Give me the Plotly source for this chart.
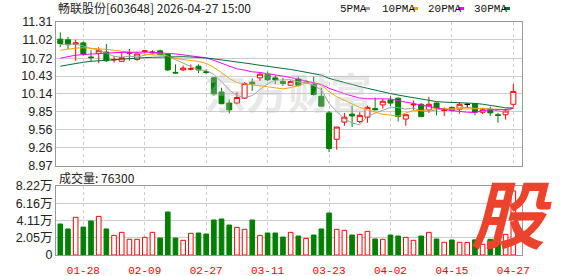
import plotly.graph_objects as go

# ---------------- data ----------------
dates = ["01-23", "01-26", "01-27", "01-28", "01-29", "01-30", "02-02", "02-03", "02-04", "02-05",
         "02-06", "02-09", "02-10", "02-11", "02-12", "02-13", "02-24", "02-25", "02-26", "02-27",
         "03-02", "03-03", "03-04", "03-05", "03-06", "03-09", "03-10", "03-11", "03-12", "03-13",
         "03-16", "03-17", "03-18", "03-19", "03-20", "03-23", "03-24", "03-25", "03-26", "03-27",
         "03-30", "03-31", "04-01", "04-02", "04-03", "04-07", "04-08", "04-09", "04-10", "04-13",
         "04-14", "04-15", "04-16", "04-17", "04-20", "04-21", "04-22", "04-23", "04-24", "04-27"]

opens = [11.03, 11.02, 10.95, 10.97, 10.74, 10.80, 10.82, 10.69, 10.67, 10.80,
         10.70, 10.83, 10.81, 10.84, 10.78, 10.49, 10.53, 10.54, 10.59, 10.50,
         10.40, 10.17, 9.99, 9.99, 10.07, 10.33, 10.40, 10.46, 10.40, 10.34,
         10.28, 10.38, 10.32, 10.30, 10.10, 9.83, 9.40, 9.68, 9.81, 9.69,
         9.76, 9.90, 9.96, 10.04, 10.07, 9.73, 9.96, 9.97, 9.88, 9.99,
         9.87, 9.92, 9.89, 9.97, 9.98, 9.84, 9.89, 9.80, 9.80, 9.97]
highs = [11.14, 11.07, 11.02, 10.99, 10.85, 10.90, 10.95, 10.76, 10.83, 10.87,
         10.82, 10.85, 10.85, 10.86, 10.79, 10.62, 10.60, 10.62, 10.62, 10.54,
         10.41, 10.24, 10.05, 10.17, 10.33, 10.39, 10.48, 10.50, 10.44, 10.40,
         10.36, 10.42, 10.36, 10.42, 10.24, 9.86, 9.60, 9.83, 9.95, 9.84,
         9.95, 10.08, 10.05, 10.10, 10.08, 9.80, 10.03, 9.99, 10.09, 10.00,
         9.92, 9.93, 10.00, 9.97, 9.99, 9.90, 9.93, 9.83, 9.90, 10.30]
lows = [10.90, 10.87, 10.68, 10.76, 10.67, 10.64, 10.66, 10.65, 10.66, 10.68,
        10.68, 10.81, 10.78, 10.77, 10.51, 10.47, 10.51, 10.52, 10.48, 10.46,
        10.11, 9.97, 9.82, 9.97, 10.06, 10.19, 10.35, 10.35, 10.30, 10.27,
        10.27, 10.26, 10.31, 10.11, 9.93, 9.19, 9.23, 9.62, 9.60, 9.66,
        9.67, 9.87, 9.90, 9.94, 9.69, 9.62, 9.88, 9.76, 9.83, 9.79,
        9.78, 9.85, 9.82, 9.91, 9.79, 9.81, 9.78, 9.67, 9.72, 9.93]
closes = [10.96, 10.94, 10.97, 10.79, 10.73, 10.85, 10.68, 10.70, 10.73, 10.81,
          10.79, 10.84, 10.82, 10.78, 10.53, 10.48, 10.56, 10.55, 10.53, 10.49,
          10.14, 9.98, 9.88, 10.08, 10.31, 10.30, 10.46, 10.37, 10.37, 10.31,
          10.34, 10.28, 10.33, 10.13, 9.94, 9.25, 9.60, 9.76, 9.78, 9.79,
          9.92, 9.88, 10.02, 9.99, 9.77, 9.80, 9.97, 9.77, 9.97, 9.91,
          9.88, 9.87, 9.97, 9.97, 9.84, 9.88, 9.83, 9.79, 9.86, 10.18]
volumes = [36900, 31000, 44900, 33300, 40500, 46000, 31000, 23400, 27000, 18700,
           18700, 21000, 27000, 20200, 51200, 20200, 17500, 25800, 26200, 25000,
           41700, 42900, 35700, 32900, 30600, 41700, 23400, 26200, 26200, 21400,
           27000, 22600, 19800, 23800, 31000, 50000, 30600, 29400, 23800, 24600,
           28200, 19100, 18700, 23800, 22600, 21000, 17500, 22600, 27000, 19100,
           15100, 17900, 15100, 15000, 18000, 12700, 18700, 14000, 24600, 76300]

ma5 = [10.94, 10.95, 10.95, 10.92, 10.878, 10.856, 10.804, 10.75, 10.738, 10.754,
       10.742, 10.772, 10.796, 10.806, 10.75, 10.688, 10.634, 10.58, 10.53, 10.522,
       10.454, 10.338, 10.204, 10.114, 10.078, 10.112, 10.208, 10.306, 10.364, 10.364,
       10.37, 10.334, 10.326, 10.278, 10.204, 9.986, 9.85, 9.736, 9.666, 9.636,
       9.77, 9.826, 9.878, 9.92, 9.916, 9.892, 9.91, 9.86, 9.856, 9.884,
       9.90, 9.88, 9.92, 9.92, 9.906, 9.906, 9.898, 9.862, 9.84, 9.908]
ma10 = [10.85, 10.87, 10.885, 10.89, 10.885, 10.875, 10.865, 10.85, 10.835, 10.816,
        10.799, 10.788, 10.773, 10.772, 10.752, 10.715, 10.703, 10.688, 10.668, 10.636,
        10.571, 10.486, 10.392, 10.322, 10.30, 10.283, 10.273, 10.255, 10.239, 10.221,
        10.241, 10.271, 10.316, 10.321, 10.284, 10.178, 10.092, 10.031, 9.972, 9.92,
        9.878, 9.838, 9.807, 9.793, 9.776, 9.831, 9.868, 9.869, 9.888, 9.90,
        9.896, 9.895, 9.89, 9.888, 9.895, 9.903, 9.889, 9.891, 9.88, 9.907]
ma20 = [10.72, 10.75, 10.77, 10.78, 10.79, 10.80, 10.805, 10.81, 10.815, 10.82,
        10.82, 10.82, 10.815, 10.81, 10.80, 10.79, 10.775, 10.76, 10.745, 10.726,
        10.685, 10.637, 10.583, 10.547, 10.526, 10.499, 10.488, 10.472, 10.454, 10.429,
        10.406, 10.379, 10.354, 10.322, 10.292, 10.231, 10.183, 10.143, 10.106, 10.071,
        10.060, 10.055, 10.062, 10.057, 10.03, 10.005, 9.98, 9.95, 9.93, 9.91,
        9.887, 9.867, 9.849, 9.841, 9.836, 9.867, 9.879, 9.88, 9.884, 9.904]
ma30 = [10.59, 10.615, 10.64, 10.655, 10.67, 10.68, 10.69, 10.70, 10.71, 10.72,
        10.725, 10.73, 10.735, 10.74, 10.745, 10.745, 10.745, 10.74, 10.735, 10.725,
        10.71, 10.695, 10.68, 10.66, 10.64, 10.625, 10.605, 10.59, 10.575, 10.558,
        10.537, 10.515, 10.494, 10.472, 10.445, 10.392, 10.356, 10.325, 10.293, 10.259,
        10.23, 10.198, 10.172, 10.145, 10.12, 10.097, 10.078, 10.052, 10.033, 10.014,
        10.005, 10.001, 10.004, 10.001, 9.985, 9.971, 9.95, 9.93, 9.913, 9.909]

tick_dates = ["01-28", "02-09", "02-27", "03-11", "03-23", "04-02", "04-15", "04-27"]
price_ticks = [11.31, 11.02, 10.72, 10.43, 10.14, 9.85, 9.56, 9.26, 8.97]
vol_ticks = [0, 20550, 41100, 61650, 82200]
vol_tick_text = ["0", "2.05万", "4.11万", "6.16万", "8.22万"]

title_text = "畅联股份[603648] 2026-04-27 15:00"
vol_label = "成交量: 76300"
ma_names = ["5PMA", "10PMA", "20PMA", "30PMA"]

# ---------------- styling ----------------
RED = "#ff0000"
GREEN = "#008000"
MA_COLORS = ["#a0a0a0", "#f5a300", "#ff00ff", "#00703a"]
W, H = 578, 276
ML, MR, MT, MB = 56, 56, 22, 21
PW = W - ML - MR
PH = H - MT - MB


def px(xp):
    return (xp - ML) / PW


def py(yp):
    return (H - MB - yp) / PH


flat = [i for i in range(len(dates)) if opens[i] == closes[i]]
main_o = [None if i in flat else v for i, v in enumerate(opens)]

fig = go.Figure()

fig.add_trace(go.Candlestick(
    x=dates, open=main_o, high=highs, low=lows, close=closes,
    increasing=dict(line=dict(color=RED, width=1), fillcolor="white"),
    decreasing=dict(line=dict(color=GREEN, width=1), fillcolor=GREEN),
    whiskerwidth=0, xaxis="x", yaxis="y", hoverinfo="skip"))

fig.add_trace(go.Candlestick(
    x=[dates[i] for i in flat], open=[opens[i] for i in flat],
    high=[highs[i] for i in flat], low=[lows[i] for i in flat],
    close=[closes[i] for i in flat],
    increasing=dict(line=dict(color="black", width=1), fillcolor="black"),
    decreasing=dict(line=dict(color="black", width=1), fillcolor="black"),
    whiskerwidth=0, xaxis="x", yaxis="y", hoverinfo="skip"))

for vals, col in zip([ma5, ma10, ma20, ma30], MA_COLORS):
    fig.add_trace(go.Scatter(x=dates, y=vals, mode="lines",
                             line=dict(color=col, width=1),
                             xaxis="x", yaxis="y", hoverinfo="skip"))

up = [closes[i] >= opens[i] for i in range(len(dates))]
fig.add_trace(go.Bar(
    x=dates, y=volumes, width=0.6,
    marker=dict(color=["white" if u else GREEN for u in up],
                line=dict(color=[RED if u else GREEN for u in up], width=1)),
    xaxis="x2", yaxis="y2", hoverinfo="skip"))

axis_common = dict(showline=True, mirror=True, linecolor="#999999", linewidth=1,
                   zeroline=False, ticks="", automargin=False)

fig.update_layout(
    width=W, height=H,
    margin=dict(l=ML, r=MR, t=MT, b=MB, pad=0, autoexpand=False),
    paper_bgcolor="white", plot_bgcolor="white",
    showlegend=False, boxgap=0.35, boxgroupgap=0,
    xaxis=dict(domain=[0, 1], anchor="y", type="category",
               categoryorder="array", categoryarray=dates,
               range=[-0.56, 60.13], tickvals=tick_dates, showticklabels=False,
               showgrid=True, gridcolor="#cccccc", griddash="3px,3px",
               rangeslider=dict(visible=False), **axis_common),
    xaxis2=dict(domain=[0, 1], anchor="y2", type="category", matches="x",
                categoryorder="array", categoryarray=dates,
                tickvals=tick_dates, ticktext=tick_dates, ticklabelstandoff=5,
                tickfont=dict(family="Liberation Mono, monospace", size=11, color=RED),
                showgrid=True, gridcolor="#cccccc", griddash="3px,3px",
                **axis_common),
    yaxis=dict(domain=[py(MT + 143.7), 1], range=[8.97, 11.31],
               tickvals=price_ticks, ticktext=[f"{v:.2f}" for v in price_ticks],
               tickfont=dict(family="Liberation Sans, Arial", size=12.5, color="#222222"),
               showgrid=True, gridcolor="#cccccc", gridwidth=1,
               **axis_common),
    yaxis2=dict(domain=[0, py(186)], range=[0, 82200],
                tickvals=vol_ticks, ticktext=vol_tick_text,
                tickfont=dict(family="Liberation Sans, Noto Sans CJK SC", size=12.5, color="#222222"),
                showgrid=True, gridcolor="#cccccc", gridwidth=1,
                **axis_common),
)

ann = []
ann.append(dict(text=title_text, x=px(56), y=py(8), xref="paper", yref="paper",
                xanchor="left", yanchor="middle", showarrow=False,
                font=dict(family="Noto Sans CJK SC", size=12, color="#222222")))
ann.append(dict(text=vol_label, x=px(57), y=py(177), xref="paper", yref="paper",
                xanchor="left", yanchor="middle", showarrow=False,
                font=dict(family="Noto Sans CJK SC", size=12, color="#222222")))
# faint watermark
ann.append(dict(text="东方财富", x=px(288), y=py(90), xref="paper", yref="paper",
                xanchor="center", yanchor="middle", showarrow=False,
                font=dict(family="Noto Sans CJK SC", size=42, color="rgba(190,190,190,0.35)",
                          weight="bold")))
# legend labels + swatches
leg_text_x = [338, 380, 426, 472]
leg_sw_x = [364, 412, 458, 504]
shapes = []
for name, tx, sx, col in zip(ma_names, leg_text_x, leg_sw_x, MA_COLORS):
    ann.append(dict(text=name, x=px(tx), y=py(8.5), xref="paper", yref="paper",
                    xanchor="left", yanchor="middle", showarrow=False,
                    font=dict(family="Liberation Mono, monospace", size=11, color="#111111")))
    shapes.append(dict(type="rect", xref="paper", yref="paper",
                       x0=px(sx), x1=px(sx + 6), y0=py(10), y1=py(7),
                       fillcolor=col, line=dict(width=0)))
# red logo
ann.append(dict(text="股", x=px(511), y=py(210), xref="paper", yref="paper",
                xanchor="center", yanchor="middle", showarrow=False,
                font=dict(family="Noto Sans CJK SC", size=74, color="#ec432d",
                          weight="bold", style="italic")))

fig.update_layout(annotations=ann, shapes=shapes)

fig.write_html("out.html")
